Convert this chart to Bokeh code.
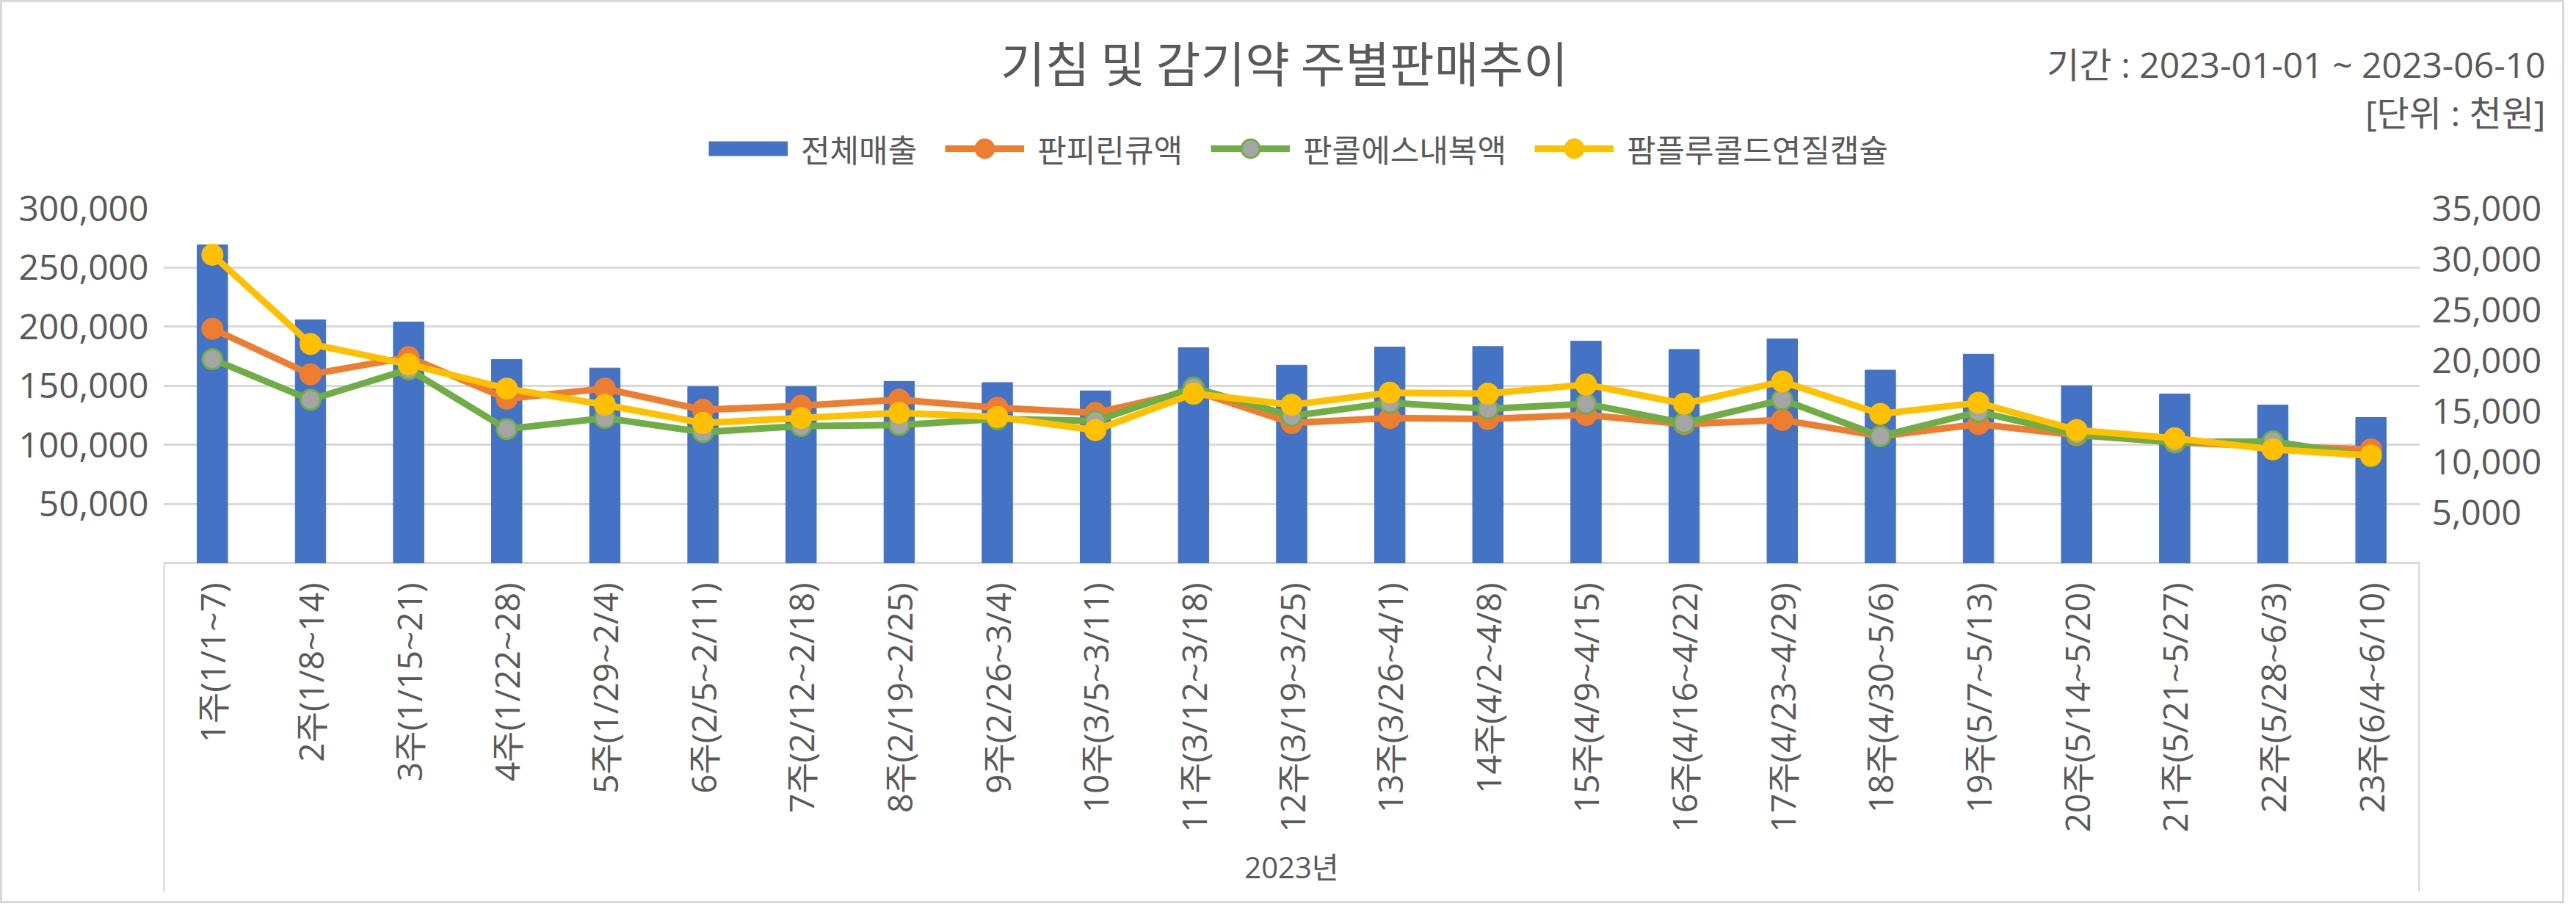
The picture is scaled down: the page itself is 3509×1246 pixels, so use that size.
import math
from bokeh.plotting import figure
from bokeh.layouts import column
from bokeh.models import (Range1d, FactorRange, LinearAxis, FixedTicker,
                          NumeralTickFormatter, Label, Legend, LegendItem)
from bokeh.core.properties import value
from bokeh.embed import file_html
from bokeh.resources import INLINE

# ---------------- data ----------------
weeks = ["1주(1/1~7)", "2주(1/8~14)", "3주(1/15~21)", "4주(1/22~28)",
         "5주(1/29~2/4)", "6주(2/5~2/11)", "7주(2/12~2/18)", "8주(2/19~2/25)",
         "9주(2/26~3/4)", "10주(3/5~3/11)", "11주(3/12~3/18)", "12주(3/19~3/25)",
         "13주(3/26~4/1)", "14주(4/2~4/8)", "15주(4/9~4/15)", "16주(4/16~4/22)",
         "17주(4/23~4/29)", "18주(4/30~5/6)", "19주(5/7~5/13)", "20주(5/14~5/20)",
         "21주(5/21~5/27)", "22주(5/28~6/3)", "23주(6/4~6/10)"]
group_label = "2023년"

total_sales = [269000, 205500, 203700, 172000, 164800, 149000, 149000, 153500,
               152500, 145500, 182000, 167200, 182500, 183000, 187500, 180500,
               189500, 163000, 176500, 149800, 142800, 133500, 123000]
panpirin = [23100, 18600, 20300, 16200, 17200, 15100, 15500, 16100, 15300, 14800,
            17000, 13800, 14300, 14200, 14600, 13700, 14100, 12500, 13700, 12600,
            11900, 11500, 11200]
pancol = [20100, 16100, 19100, 13200, 14300, 12900, 13500, 13600, 14200, 14000,
          17300, 14500, 15800, 15200, 15700, 13800, 16100, 12500, 14900, 12700,
          11900, 12000, 10500]
pamflu = [30400, 21600, 19600, 17200, 15600, 13800, 14300, 14800, 14400, 13100,
          16700, 15600, 16800, 16700, 17600, 15700, 17900, 14700, 15800, 13100,
          12300, 11200, 10600]

series_names = ["전체매출", "판피린큐액", "판콜에스내복액", "팜플루콜드연질캡슐"]
left_ticks = [50000, 100000, 150000, 200000, 250000, 300000]
right_ticks = [5000, 10000, 15000, 20000, 25000, 30000, 35000]
title_text = "기침 및 감기약 주별판매추이"
period_text = "기간 : 2023-01-01 ~ 2023-06-10"
unit_text = "[단위 : 천원]"

# ---------------- styles ----------------
TEXT = "#595959"
GRID = "#D9D9D9"
NUMFONT = "Open Sans, Noto Sans CJK KR"
KRFONT = "Noto Sans CJK KR"
BAR_COLOR = "#4472C4"
line_specs = [("#ED7D31", "#ED7D31"), ("#70AD47", "#A5A5A5"), ("#FFC000", "#FFC000")]
MARKER = 27
LINE_W = 9

# ---------------- layout constants (px) ----------------
W = 3487            # figure width (inside a 3px border)
HH = 245            # header height
HM = 979            # main figure height
FL, FR = 219, 3293  # frame left/right
FT, BASE, FB = 35, 518, 966   # frame top, baseline, frame bottom in main fig
plot_px = BASE - FT
box_px = FB - BASE
LEFT_MAX = 300000
RIGHT_MAX = 35000


def px_to_left(px):
    return -px * LEFT_MAX / plot_px


# ---------------- header (title, period, legend) ----------------
hd = figure(width=W, height=HH, x_range=Range1d(0, W), y_range=Range1d(HH, 0),
            output_backend="svg", toolbar_location=None,
            x_axis_location=None, y_axis_location=None,
            min_border_left=0, min_border_right=0, min_border_top=0,
            min_border_bottom=0)
hd.frame_align = False
hd.outline_line_color = None
hd.grid.visible = False

hd.add_layout(Label(x=1746, y=79, text=title_text, text_align="center",
                    text_baseline="middle", text_font=KRFONT,
                    text_font_size="66px", text_color=TEXT))
hd.add_layout(Label(x=3464, y=84, text=period_text, text_align="right",
                    text_baseline="middle", text_font=NUMFONT,
                    text_font_size="48px", text_color=TEXT))
hd.add_layout(Label(x=3464, y=150, text=unit_text, text_align="right",
                    text_baseline="middle", text_font=NUMFONT,
                    text_font_size="48px", text_color=TEXT))

# legend samples (styled like the series in the chart below; kept out of view)
OFF = [-500]
proxy_bar = hd.line(x=OFF, y=OFF, line_color=BAR_COLOR, line_width=20)
items = [LegendItem(label=series_names[0], renderers=[proxy_bar])]
for (lc, fc), name in zip(line_specs, series_names[1:]):
    pl = hd.line(x=OFF, y=OFF, line_color=lc, line_width=LINE_W)
    ps = hd.scatter(x=OFF, y=OFF, size=MARKER, fill_color=fc, line_color=lc,
                    line_width=3)
    items.append(LegendItem(label=name, renderers=[pl, ps]))
legend = Legend(items=items, orientation="horizontal", location=(962, 15),
                glyph_width=108, glyph_height=62, label_height=40,
                label_standoff=18, spacing=38, padding=0, margin=0,
                border_line_color=None, background_fill_alpha=0,
                label_text_font=KRFONT, label_text_font_size="43px",
                label_text_color=TEXT)
hd.add_layout(legend, "center")

# ---------------- main chart ----------------
p = figure(width=W, height=HM, x_range=FactorRange(*weeks),
           y_range=Range1d(px_to_left(box_px), LEFT_MAX),
           output_backend="svg", toolbar_location=None,
           x_axis_location=None,
           min_border_left=FL, min_border_right=W - FR,
           min_border_top=FT, min_border_bottom=HM - FB)
p.frame_align = False
p.outline_line_color = None
p.extra_y_ranges = {"r": Range1d(-box_px * RIGHT_MAX / plot_px, RIGHT_MAX)}

p.xgrid.visible = False
p.ygrid.ticker = FixedTicker(ticks=[0] + left_ticks)
p.ygrid.grid_line_color = GRID
p.ygrid.grid_line_width = 3

la = p.yaxis[0]
la.ticker = FixedTicker(ticks=left_ticks)
la.formatter = NumeralTickFormatter(format="0,0")
ra = LinearAxis(y_range_name="r", ticker=FixedTicker(ticks=right_ticks),
                formatter=NumeralTickFormatter(format="0,0"))
p.add_layout(ra, "right")
for ax in (la, ra):
    ax.axis_line_color = None
    ax.major_tick_line_color = None
    ax.minor_tick_line_color = None
    ax.major_label_text_font = NUMFONT
    ax.major_label_text_font_size = "48px"
    ax.major_label_text_color = TEXT
la.major_label_standoff = 14
ra.major_label_standoff = 10

# category box separators below the baseline
p.segment(x0=[0.006, 22.994], y0=[0, 0], x1=[0.006, 22.994],
          y1=[px_to_left(box_px), px_to_left(box_px)],
          line_color=GRID, line_width=3)

# category labels
p.text(x=weeks, y=[px_to_left(27)] * len(weeks), text=weeks, angle=math.pi / 2,
       text_align="right", text_baseline="middle",
       text_font=value(NUMFONT), text_font_size="46px", text_color=TEXT)
p.text(x=[weeks[len(weeks) // 2]], y=[px_to_left(414)], text=[group_label],
       text_align="center", text_baseline="middle",
       text_font=value(NUMFONT), text_font_size="40px", text_color=TEXT)

# bars and lines
p.vbar(x=weeks, top=total_sales, width=0.31, color=BAR_COLOR)
for vals, (lc, fc) in zip([panpirin, pancol, pamflu], line_specs):
    p.line(x=weeks, y=vals, y_range_name="r", line_color=lc, line_width=LINE_W,
           line_join="round")
    p.scatter(x=weeks, y=vals, y_range_name="r", size=MARKER, fill_color=fc,
              line_color=lc, line_width=3)

layout = column(hd, p, spacing=0,
                styles={"border": "3px solid #D9D9D9", "background": "white"})

open("out.html", "w").write(file_html(layout, INLINE))
